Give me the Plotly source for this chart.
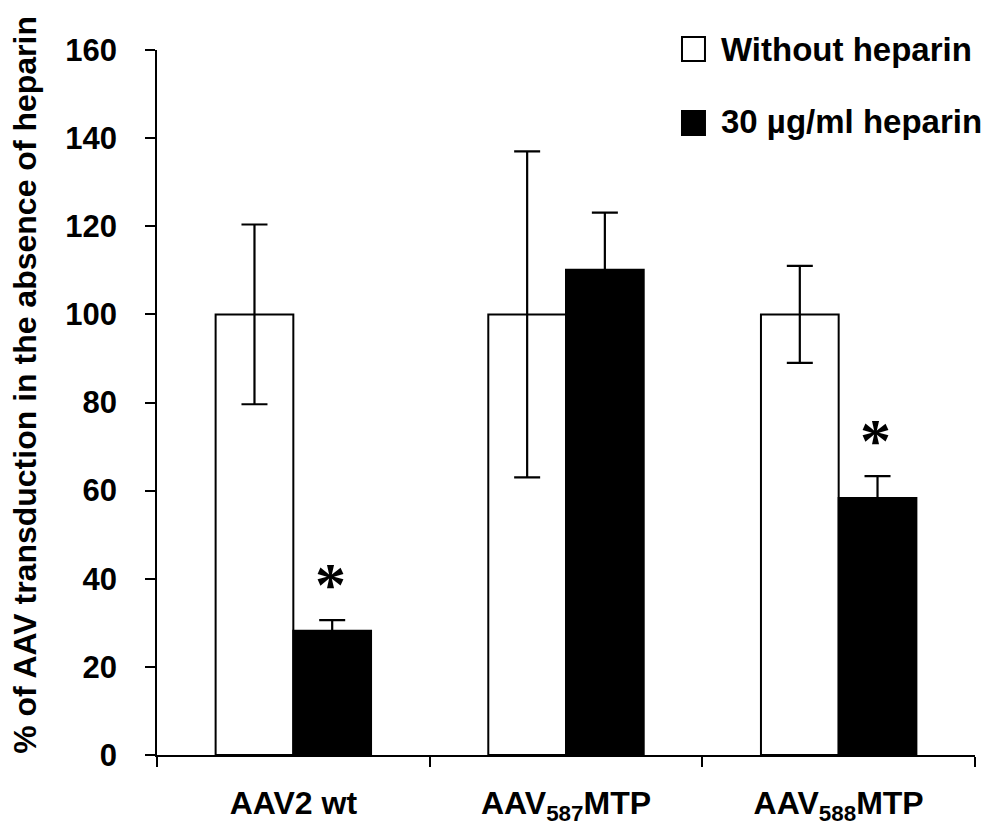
import plotly.graph_objects as go

categories = ["AAV2 wt", "AAV<sub>587</sub>MTP", "AAV<sub>588</sub>MTP"]
without_vals = [100, 100, 100]
without_err = [20.4, 37.0, 11.0]
heparin_vals = [28.2, 110.1, 58.3]
heparin_err = [2.4, 13.0, 5.0]
significant = [True, False, True]
series_names = ["Without heparin", "30 µg/ml heparin"]
y_ticks = [0, 20, 40, 60, 80, 100, 120, 140, 160]

FONT = "Liberation Sans, Arial, sans-serif"
fs = 33

fig = go.Figure()
fig.add_trace(go.Bar(
    x=categories, y=without_vals, name=series_names[0],
    marker=dict(color="white", line=dict(color="black", width=2)),
    error_y=dict(type="data", array=without_err, visible=True, color="black", thickness=2.2, width=13),
    showlegend=False,
))
fig.add_trace(go.Bar(
    x=categories, y=heparin_vals, name=series_names[1],
    marker=dict(color="black", line=dict(color="black", width=2)),
    error_y=dict(type="data", array=heparin_err, visible=True, color="black", thickness=2.2, width=13),
    showlegend=False,
))

bargap = 0.43
half_bar = (1 - bargap) / 4
for i, sig in enumerate(significant):
    if sig:
        fig.add_annotation(
            x=i + half_bar, y=heparin_vals[i] + heparin_err[i], xref="x", yref="y",
            text="*", showarrow=False, yanchor="bottom", yshift=0, xshift=-2,
            font=dict(family="Liberation Serif, Times New Roman, serif", size=62, color="black", weight="bold"),
        )

# manual legend
leg = [(series_names[0], "white", 0.9844, 1.0184, 1.0014), (series_names[1], "black", 0.8794, 0.9135, 0.8979)]
for name, col, y0, y1, yt in leg:
    fig.add_shape(type="rect", xref="paper", yref="paper", x0=0.6418, x1=0.6699, y0=y0, y1=y1,
                  fillcolor=col, line=dict(color="black", width=2))
    fig.add_annotation(xref="paper", yref="paper", x=0.687, y=yt, xanchor="left", yanchor="middle",
                       text=name, showarrow=False,
                       font=dict(family=FONT, size=fs, color="black", weight="bold"))

# y-axis title
fig.add_annotation(xref="paper", yref="paper", x=-0.1614, y=0.525, xanchor="center", yanchor="middle",
                   text="% of AAV transduction in the absence of heparin", textangle=-90, showarrow=False,
                   font=dict(family=FONT, size=32, color="black", weight="bold"))

fig.update_layout(
    width=986, height=826,
    margin=dict(l=157, r=11, t=50, b=71),
    paper_bgcolor="white", plot_bgcolor="white",
    barmode="group", bargap=bargap, bargroupgap=0,
    font=dict(family=FONT, size=fs, color="black", weight="bold"),
    xaxis=dict(
        type="category", range=[-0.5, 2.5], tickson="boundaries", automargin=False,
        showline=True, linecolor="black", linewidth=1.5,
        ticks="outside", ticklen=10, tickwidth=1.5, tickcolor="black",
        showgrid=False, zeroline=False, ticklabelstandoff=19,
        tickfont=dict(family=FONT, size=32, color="black", weight="bold"),
    ),
    yaxis=dict(
        range=[0, 160], tickvals=y_ticks, automargin=False,
        showline=True, linecolor="black", linewidth=1.5,
        ticks="outside", ticklen=10, tickwidth=1.5, tickcolor="black",
        showgrid=False, zeroline=False, ticklabelstandoff=22,
        tickfont=dict(family=FONT, size=31, color="black", weight="bold"),
    ),
)

fig.write_html("out.html")
